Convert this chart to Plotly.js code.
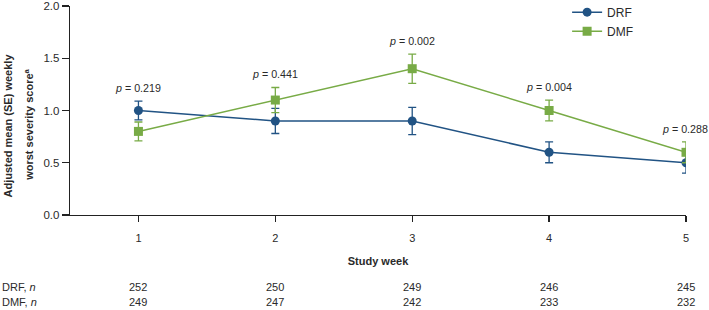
<!DOCTYPE html>
<html>
<head>
<meta charset="utf-8">
<script src="https://cdn.plot.ly/plotly-3.0.1.min.js"></script>
<style>html,body{margin:0;padding:0;background:#fff;}#chart{width:709px;height:310px;}</style>
</head>
<body>
<div id="chart"></div>
<script>
// ---- data ----
const weeks = [1, 2, 3, 4, 5];
const drfMean = [1.0, 0.9, 0.9, 0.6, 0.5];
const drfSE = [0.09, 0.12, 0.13, 0.10, 0.10];
const dmfMean = [0.8, 1.1, 1.4, 1.0, 0.6];
const dmfSE = [0.09, 0.12, 0.14, 0.10, 0.10];
const pValues = ['0.219', '0.441', '0.002', '0.004', '0.288'];
const drfN = [252, 250, 249, 246, 245];
const dmfN = [249, 247, 242, 233, 232];
const yTicks = [0.0, 0.5, 1.0, 1.5, 2.0];

const drfColor = '#215384';
const dmfColor = '#78ab46';
const textColor = '#2a2a2a';
const font = 'Liberation Sans, Arial, sans-serif';

const traces = [
  {
    x: weeks, y: drfMean, name: 'DRF', type: 'scatter', mode: 'lines+markers',
    line: {color: drfColor, width: 1.5},
    marker: {color: drfColor, size: 9, symbol: 'circle'},
    error_y: {type: 'data', array: drfSE, visible: true, color: drfColor, thickness: 1.3, width: 4}
  },
  {
    x: weeks, y: dmfMean, name: 'DMF', type: 'scatter', mode: 'lines+markers',
    line: {color: dmfColor, width: 1.5},
    marker: {color: dmfColor, size: 9, symbol: 'square'},
    error_y: {type: 'data', array: dmfSE, visible: true, color: dmfColor, thickness: 1.3, width: 4}
  }
];

const annotations = [];
weeks.forEach((w, i) => {
  const top = Math.max(drfMean[i] + drfSE[i], dmfMean[i] + dmfSE[i]);
  annotations.push({
    x: w, y: top + 0.125, xref: 'x', yref: 'y', showarrow: false,
    text: '<i>p</i> = ' + pValues[i], font: {family: font, size: 10.7, color: textColor},
    xanchor: 'center', yanchor: 'middle', xshift: i === weeks.length - 1 ? -1 : 0
  });
  annotations.push({
    x: w, y: -0.345, xref: 'x', yref: 'paper', showarrow: false,
    text: String(drfN[i]), font: {family: font, size: 11, color: textColor},
    xanchor: 'center', yanchor: 'middle'
  });
  annotations.push({
    x: w, y: -0.417, xref: 'x', yref: 'paper', showarrow: false,
    text: String(dmfN[i]), font: {family: font, size: 11, color: textColor},
    xanchor: 'center', yanchor: 'middle'
  });
});
annotations.push({
  x: -0.1136, y: -0.345, xref: 'paper', yref: 'paper', showarrow: false,
  text: 'DRF, <i>n</i>', font: {family: font, size: 11, color: textColor},
  xanchor: 'left', yanchor: 'middle'
});
annotations.push({
  x: -0.1136, y: -0.417, xref: 'paper', yref: 'paper', showarrow: false,
  text: 'DMF, <i>n</i>', font: {family: font, size: 11, color: textColor},
  xanchor: 'left', yanchor: 'middle'
});
// y axis title (two lines)
annotations.push({
  x: -0.1, y: 0.43, xref: 'paper', yref: 'paper', showarrow: false, textangle: -90,
  text: '<b>Adjusted mean (SE) weekly</b>', font: {family: font, size: 11, color: textColor},
  xanchor: 'center', yanchor: 'middle'
});
annotations.push({
  x: -0.067, y: 0.43, xref: 'paper', yref: 'paper', showarrow: false, textangle: -90,
  text: '<b>worst severity score<sup>a</sup></b>', font: {family: font, size: 11, color: textColor},
  xanchor: 'center', yanchor: 'middle'
});

const layout = {
  width: 709, height: 310,
  margin: {l: 70, r: 23, t: 6, b: 95, autoexpand: false},
  paper_bgcolor: '#fff', plot_bgcolor: '#fff',
  font: {family: font, size: 11, color: textColor},
  showlegend: true,
  legend: {x: 0.807, y: 1.04, xanchor: 'left', yanchor: 'top', tracegroupgap: 0,
           font: {family: font, size: 12, color: textColor}, bgcolor: 'rgba(0,0,0,0)'},
  xaxis: {
    range: [0.5, 5], tickvals: weeks, ticktext: weeks.map(String),
    showline: true, linecolor: '#222', linewidth: 1.3, showgrid: false, zeroline: false,
    ticks: 'outside', ticklen: 6, tickwidth: 1.3, tickcolor: '#222', ticklabelstandoff: 6,
    tickfont: {family: font, size: 11, color: textColor},
    title: {text: '<b>Study week</b>', font: {family: font, size: 11, color: textColor}, standoff: 14}
  },
  yaxis: {
    range: [0, 2.0], tickvals: yTicks, ticktext: yTicks.map(v => v.toFixed(1)),
    showline: true, linecolor: '#222', linewidth: 1.3, showgrid: false, zeroline: false,
    ticks: 'outside', ticklen: 7, tickwidth: 1.3, tickcolor: '#222',
    ticklabeloverflow: 'allow',
    tickfont: {family: font, size: 11.5, color: textColor}
  },
  annotations: annotations
};

Plotly.newPlot('chart', traces, layout, {displayModeBar: false, staticPlot: true});
</script>
</body>
</html>
